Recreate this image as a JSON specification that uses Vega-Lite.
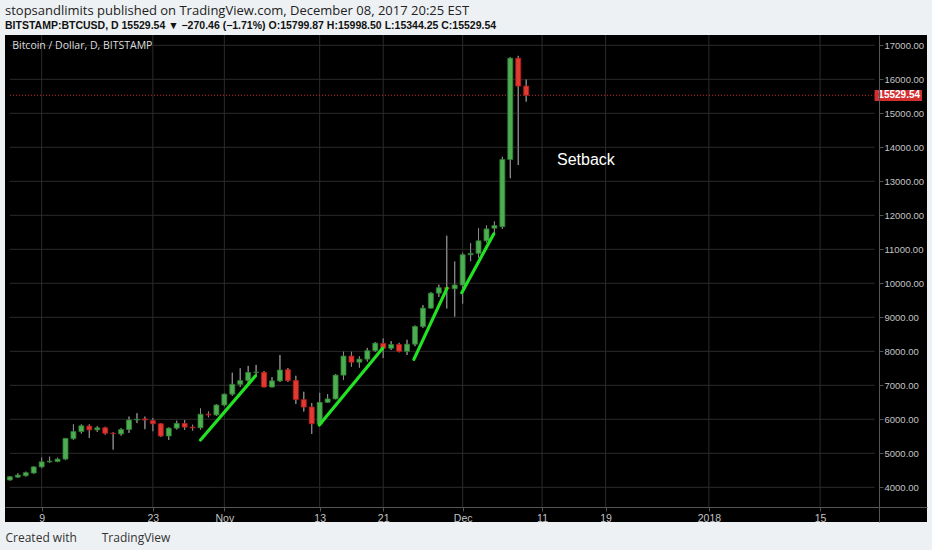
{
  "$schema": "https://vega.github.io/schema/vega-lite/v6.json",
  "width": 922,
  "height": 487,
  "autosize": {"type": "none"},
  "padding": {"left": 5, "top": 35, "right": 5, "bottom": 28},
  "background": "#eef1f4",
  "title": {
    "text": "stopsandlimits published on TradingView.com, December 08, 2017 20:25 EST",
    "subtitle": "BITSTAMP:BTCUSD, D  15529.54 ▼ −270.46 (−1.71%)  O:15799.87  H:15998.50  L:15344.25  C:15529.54",
    "anchor": "start",
    "frame": "group",
    "font": "Open Sans",
    "fontSize": 13,
    "fontWeight": "normal",
    "color": "#222222",
    "subtitleFont": "Liberation Sans",
    "subtitleFontSize": 10.5,
    "subtitleFontWeight": "bold",
    "subtitleColor": "#111111",
    "subtitlePadding": 3,
    "offset": 3
  },
  "datasets": {
    "ohlc": [
      {"date": "2017-10-05", "open": 4215, "high": 4330, "low": 4200, "close": 4310},
      {"date": "2017-10-06", "open": 4300, "high": 4410, "low": 4280, "close": 4360},
      {"date": "2017-10-07", "open": 4340, "high": 4460, "low": 4320, "close": 4430},
      {"date": "2017-10-08", "open": 4420, "high": 4620, "low": 4400, "close": 4600},
      {"date": "2017-10-09", "open": 4600, "high": 4880, "low": 4560, "close": 4750},
      {"date": "2017-10-10", "open": 4750, "high": 4900, "low": 4720, "close": 4770},
      {"date": "2017-10-11", "open": 4760, "high": 4870, "low": 4740, "close": 4830},
      {"date": "2017-10-12", "open": 4830, "high": 5450, "low": 4800, "close": 5440},
      {"date": "2017-10-13", "open": 5430, "high": 5850, "low": 5390, "close": 5640},
      {"date": "2017-10-14", "open": 5640, "high": 5850, "low": 5580, "close": 5810},
      {"date": "2017-10-15", "open": 5800, "high": 5850, "low": 5450, "close": 5690},
      {"date": "2017-10-16", "open": 5690, "high": 5800, "low": 5630, "close": 5750},
      {"date": "2017-10-17", "open": 5750, "high": 5780, "low": 5550, "close": 5590},
      {"date": "2017-10-18", "open": 5590, "high": 5620, "low": 5110, "close": 5580},
      {"date": "2017-10-19", "open": 5570, "high": 5740, "low": 5520, "close": 5700},
      {"date": "2017-10-20", "open": 5700, "high": 6080, "low": 5600, "close": 5980},
      {"date": "2017-10-21", "open": 5980, "high": 6180, "low": 5890, "close": 6000},
      {"date": "2017-10-22", "open": 6010, "high": 6080, "low": 5710, "close": 5980},
      {"date": "2017-10-23", "open": 5960, "high": 6040, "low": 5650, "close": 5870},
      {"date": "2017-10-24", "open": 5870, "high": 5880, "low": 5480, "close": 5510},
      {"date": "2017-10-25", "open": 5510, "high": 5760, "low": 5390, "close": 5740},
      {"date": "2017-10-26", "open": 5740, "high": 5960, "low": 5700, "close": 5880},
      {"date": "2017-10-27", "open": 5880, "high": 5980, "low": 5690, "close": 5770},
      {"date": "2017-10-28", "open": 5770, "high": 5840, "low": 5670, "close": 5750},
      {"date": "2017-10-29", "open": 5750, "high": 6320, "low": 5700, "close": 6150},
      {"date": "2017-10-30", "open": 6150, "high": 6230, "low": 6060, "close": 6130},
      {"date": "2017-10-31", "open": 6130, "high": 6450, "low": 6100, "close": 6420},
      {"date": "2017-11-01", "open": 6420, "high": 6760, "low": 6380, "close": 6740},
      {"date": "2017-11-02", "open": 6740, "high": 7370, "low": 6690, "close": 7030},
      {"date": "2017-11-03", "open": 7030, "high": 7500, "low": 6950, "close": 7140},
      {"date": "2017-11-04", "open": 7140, "high": 7570, "low": 7030, "close": 7380},
      {"date": "2017-11-05", "open": 7380, "high": 7600, "low": 7260, "close": 7390},
      {"date": "2017-11-06", "open": 7380, "high": 7420, "low": 6940, "close": 6950},
      {"date": "2017-11-07", "open": 6950, "high": 7240, "low": 6940, "close": 7130},
      {"date": "2017-11-08", "open": 7130, "high": 7890, "low": 7100, "close": 7450},
      {"date": "2017-11-09", "open": 7460, "high": 7510, "low": 7100, "close": 7140},
      {"date": "2017-11-10", "open": 7140, "high": 7280, "low": 6450, "close": 6580},
      {"date": "2017-11-11", "open": 6580, "high": 6810, "low": 6230, "close": 6360},
      {"date": "2017-11-12", "open": 6360, "high": 6480, "low": 5570, "close": 5870},
      {"date": "2017-11-13", "open": 5860, "high": 6780, "low": 5840, "close": 6500},
      {"date": "2017-11-14", "open": 6500, "high": 6740, "low": 6480, "close": 6600},
      {"date": "2017-11-15", "open": 6600, "high": 7330, "low": 6590, "close": 7300},
      {"date": "2017-11-16", "open": 7300, "high": 7990, "low": 7160, "close": 7860},
      {"date": "2017-11-17", "open": 7860, "high": 7990, "low": 7550, "close": 7680},
      {"date": "2017-11-18", "open": 7680, "high": 7850, "low": 7520, "close": 7770},
      {"date": "2017-11-19", "open": 7770, "high": 8100, "low": 7700, "close": 8020},
      {"date": "2017-11-20", "open": 8020, "high": 8270, "low": 7980, "close": 8240},
      {"date": "2017-11-21", "open": 8230, "high": 8380, "low": 7800, "close": 8090},
      {"date": "2017-11-22", "open": 8090, "high": 8300, "low": 8040, "close": 8200},
      {"date": "2017-11-23", "open": 8200, "high": 8250, "low": 7970, "close": 8000},
      {"date": "2017-11-24", "open": 8000, "high": 8340, "low": 7890, "close": 8210},
      {"date": "2017-11-25", "open": 8210, "high": 8760, "low": 8150, "close": 8730},
      {"date": "2017-11-26", "open": 8730, "high": 9360, "low": 8690, "close": 9270},
      {"date": "2017-11-27", "open": 9270, "high": 9740, "low": 9260, "close": 9710},
      {"date": "2017-11-28", "open": 9710, "high": 9960, "low": 9600, "close": 9870},
      {"date": "2017-11-29", "open": 9870, "high": 11400, "low": 9260, "close": 9840},
      {"date": "2017-11-30", "open": 9840, "high": 10640, "low": 9020, "close": 9950},
      {"date": "2017-12-01", "open": 9950, "high": 10900, "low": 9400, "close": 10840},
      {"date": "2017-12-02", "open": 10840, "high": 11180, "low": 10650, "close": 10880},
      {"date": "2017-12-03", "open": 10880, "high": 11620, "low": 10760, "close": 11250},
      {"date": "2017-12-04", "open": 11250, "high": 11700, "low": 11200, "close": 11600},
      {"date": "2017-12-05", "open": 11620, "high": 11820, "low": 11430, "close": 11700},
      {"date": "2017-12-06", "open": 11665, "high": 13720, "low": 11600, "close": 13640},
      {"date": "2017-12-07", "open": 13640, "high": 16650, "low": 13090, "close": 16620},
      {"date": "2017-12-08", "open": 16620, "high": 16690, "low": 13480, "close": 15800},
      {"date": "2017-12-09", "open": 15799.87, "high": 15998.5, "low": 15344.25, "close": 15529.54}
    ],
    "trend": [
      {"start": "2017-10-29T00:00:00Z", "from": 5392, "end": "2017-11-04T21:30:00Z", "to": 7274},
      {"start": "2017-11-12T23:00:00Z", "from": 5833, "end": "2017-11-20T22:20:00Z", "to": 8089},
      {"start": "2017-11-24T20:40:00Z", "from": 7765, "end": "2017-11-29T00:30:00Z", "to": 9853},
      {"start": "2017-11-30T21:20:00Z", "from": 9724, "end": "2017-12-04T21:50:00Z", "to": 11450}
    ],
    "ygrid": [
      {"v": 4000}, {"v": 5000}, {"v": 6000}, {"v": 7000}, {"v": 8000}, {"v": 9000}, {"v": 10000},
      {"v": 11000}, {"v": 12000}, {"v": 13000}, {"v": 14000}, {"v": 15000}, {"v": 16000}, {"v": 17000}
    ],
    "xgrid": [
      {"d": "2017-10-09"}, {"d": "2017-10-23"}, {"d": "2017-11-01"}, {"d": "2017-11-13"}, {"d": "2017-11-21"},
      {"d": "2017-12-01"}, {"d": "2017-12-11"}, {"d": "2017-12-19"}, {"d": "2018-01-01"}, {"d": "2018-01-15"}
    ],
    "notes": [
      {"label": "Setback", "date": "2017-12-12T21:00:00Z", "price": 13627}
    ],
    "last": [
      {"price": 15529.54, "label": "15529.54"}
    ]
  },
  "layer": [
    {
      "data": {"name": "ohlc"},
      "mark": {"type": "rule", "color": "#8a8a8a", "strokeWidth": 1, "clip": true},
      "encoding": {
        "x": {
          "field": "date",
          "type": "temporal",
          "scale": {
            "type": "utc",
            "domain": [
              {"year": 2017, "month": 10, "date": 5, "hours": 0, "minutes": 22, "utc": true},
              {"year": 2018, "month": 1, "date": 27, "hours": 19, "minutes": 55, "utc": true}
            ]
          },
          "axis": {
            "orient": "bottom",
            "offset": -15,
            "values": [
              {"year": 2017, "month": 10, "date": 9, "utc": true},
              {"year": 2017, "month": 10, "date": 23, "utc": true},
              {"year": 2017, "month": 11, "date": 1, "utc": true},
              {"year": 2017, "month": 11, "date": 13, "utc": true},
              {"year": 2017, "month": 11, "date": 21, "utc": true},
              {"year": 2017, "month": 12, "date": 1, "utc": true},
              {"year": 2017, "month": 12, "date": 11, "utc": true},
              {"year": 2017, "month": 12, "date": 19, "utc": true},
              {"year": 2018, "month": 1, "date": 1, "utc": true},
              {"year": 2018, "month": 1, "date": 15, "utc": true}
            ],
            "labelExpr": "utcdate(datum.value) == 1 ? (utcmonth(datum.value) == 0 ? utcFormat(datum.value, '%Y') : utcFormat(datum.value, '%b')) : utcFormat(datum.value, '%-d')",
            "grid": false,
            "zindex": 1,
            "domainColor": "#555555",
            "tickColor": "#555555",
            "tickSize": 4,
            "labelColor": "#c4c4c4",
            "labelFont": "Liberation Sans",
            "labelFontSize": 10.5,
            "labelPadding": 2,
            "labelFlush": false,
            "labelOverlap": false,
            "labelSeparation": 0,
            "title": "Created with \u00a0\u00a0\u00a0\u00a0\u00a0\u00a0 TradingView",
            "titleAnchor": "start",
            "titleAlign": "left",
            "titleColor": "#333333",
            "titleFont": "Open Sans",
            "titleFontSize": 12,
            "titleFontWeight": "normal",
            "titlePadding": 9
          }
        },
        "y": {
          "field": "low",
          "type": "quantitative",
          "scale": {"domain": [2980, 17303], "nice": false, "zero": false},
          "axis": {
            "orient": "right",
            "offset": -48,
            "values": [4000, 5000, 6000, 7000, 8000, 9000, 10000, 11000, 12000, 13000, 14000, 15000, 16000, 17000],
            "tickCount": 14,
            "format": ".2f",
            "grid": false,
            "zindex": 1,
            "domainColor": "#555555",
            "tickColor": "#555555",
            "tickSize": 4,
            "labelColor": "#c4c4c4",
            "labelFont": "Liberation Sans",
            "labelFontSize": 9.5,
            "labelPadding": 1,
            "labelFlush": false,
            "labelOverlap": false,
            "labelSeparation": 0,
            "title": null
          }
        },
        "y2": {"field": "high"}
      }
    },
    {
      "data": {"name": "ygrid"},
      "mark": {"type": "rule", "color": "#2b2b2b", "strokeWidth": 1},
      "encoding": {
        "y": {"field": "v", "type": "quantitative"},
        "x": {"datum": {"year": 2017, "month": 10, "date": 5, "hours": 0, "minutes": 22, "utc": true}, "type": "temporal"},
        "x2": {"datum": {"year": 2018, "month": 1, "date": 21, "hours": 20, "minutes": 38, "utc": true}}
      }
    },
    {
      "data": {"name": "xgrid"},
      "mark": {"type": "rule", "color": "#2b2b2b", "strokeWidth": 1},
      "encoding": {
        "x": {"field": "d", "type": "temporal"},
        "y": {"datum": 3421, "type": "quantitative"},
        "y2": {"datum": 17303}
      }
    },
    {
      "data": {"name": "last"},
      "mark": {"type": "rule", "color": "#c62828", "strokeWidth": 1, "strokeDash": [1, 2]},
      "encoding": {
        "y": {"field": "price", "type": "quantitative"},
        "x": {"datum": {"year": 2017, "month": 10, "date": 5, "hours": 0, "minutes": 22, "utc": true}, "type": "temporal"},
        "x2": {"datum": {"year": 2018, "month": 1, "date": 21, "hours": 20, "minutes": 38, "utc": true}}
      }
    },
    {
      "data": {"name": "ohlc"},
      "mark": {"type": "rule", "color": "#8a8a8a", "strokeWidth": 1, "clip": true},
      "encoding": {
        "x": {"field": "date", "type": "temporal"},
        "y": {"field": "low", "type": "quantitative"},
        "y2": {"field": "high"}
      }
    },
    {
      "data": {"name": "ohlc"},
      "mark": {"type": "bar", "size": 5, "strokeWidth": 0.8, "clip": true},
      "encoding": {
        "x": {"field": "date", "type": "temporal"},
        "y": {"field": "open", "type": "quantitative"},
        "y2": {"field": "close"},
        "fill": {"condition": {"test": "datum.close >= datum.open", "value": "#4cae50"}, "value": "#e03a32"},
        "stroke": {"condition": {"test": "datum.close >= datum.open", "value": "#2e7d32"}, "value": "#b71c1c"}
      }
    },
    {
      "data": {"name": "trend"},
      "mark": {"type": "rule", "color": "#22e322", "strokeWidth": 3.2, "strokeCap": "round"},
      "encoding": {
        "x": {"field": "start", "type": "temporal"},
        "x2": {"field": "end"},
        "y": {"field": "from", "type": "quantitative"},
        "y2": {"field": "to"}
      }
    },
    {
      "data": {"name": "notes"},
      "mark": {"type": "text", "align": "left", "baseline": "middle", "color": "#ffffff", "font": "Liberation Sans", "fontSize": 16},
      "encoding": {
        "x": {"field": "date", "type": "temporal"},
        "y": {"field": "price", "type": "quantitative"},
        "text": {"field": "label"}
      }
    },
    {
      "data": {"values": [{"label": "Bitcoin / Dollar, D, BITSTAMP"}]},
      "mark": {"type": "text", "align": "left", "baseline": "middle", "color": "#dddddd", "font": "Open Sans", "fontSize": 10.5},
      "encoding": {
        "x": {"datum": {"year": 2017, "month": 10, "date": 5, "hours": 7, "minutes": 0, "utc": true}, "type": "temporal"},
        "y": {"datum": 16980, "type": "quantitative"},
        "text": {"field": "label"}
      }
    },
    {
      "data": {"name": "last"},
      "mark": {"type": "rect", "color": "#d32f2f"},
      "encoding": {
        "x": {"datum": {"year": 2018, "month": 1, "date": 21, "hours": 20, "minutes": 38, "utc": true}, "type": "temporal"},
        "x2": {"datum": {"year": 2018, "month": 1, "date": 27, "hours": 19, "minutes": 55, "utc": true}},
        "y": {"datum": 15362, "type": "quantitative"},
        "y2": {"datum": 15685}
      }
    },
    {
      "data": {"name": "last"},
      "mark": {"type": "text", "align": "left", "baseline": "middle", "color": "#ffffff", "font": "Liberation Sans", "fontSize": 10, "fontWeight": "bold"},
      "encoding": {
        "x": {"datum": {"year": 2018, "month": 1, "date": 22, "hours": 8, "minutes": 0, "utc": true}, "type": "temporal"},
        "y": {"field": "price", "type": "quantitative"},
        "text": {"field": "label"}
      }
    }
  ],
  "config": {
    "view": {"fill": "#000000", "stroke": null}
  }
}
